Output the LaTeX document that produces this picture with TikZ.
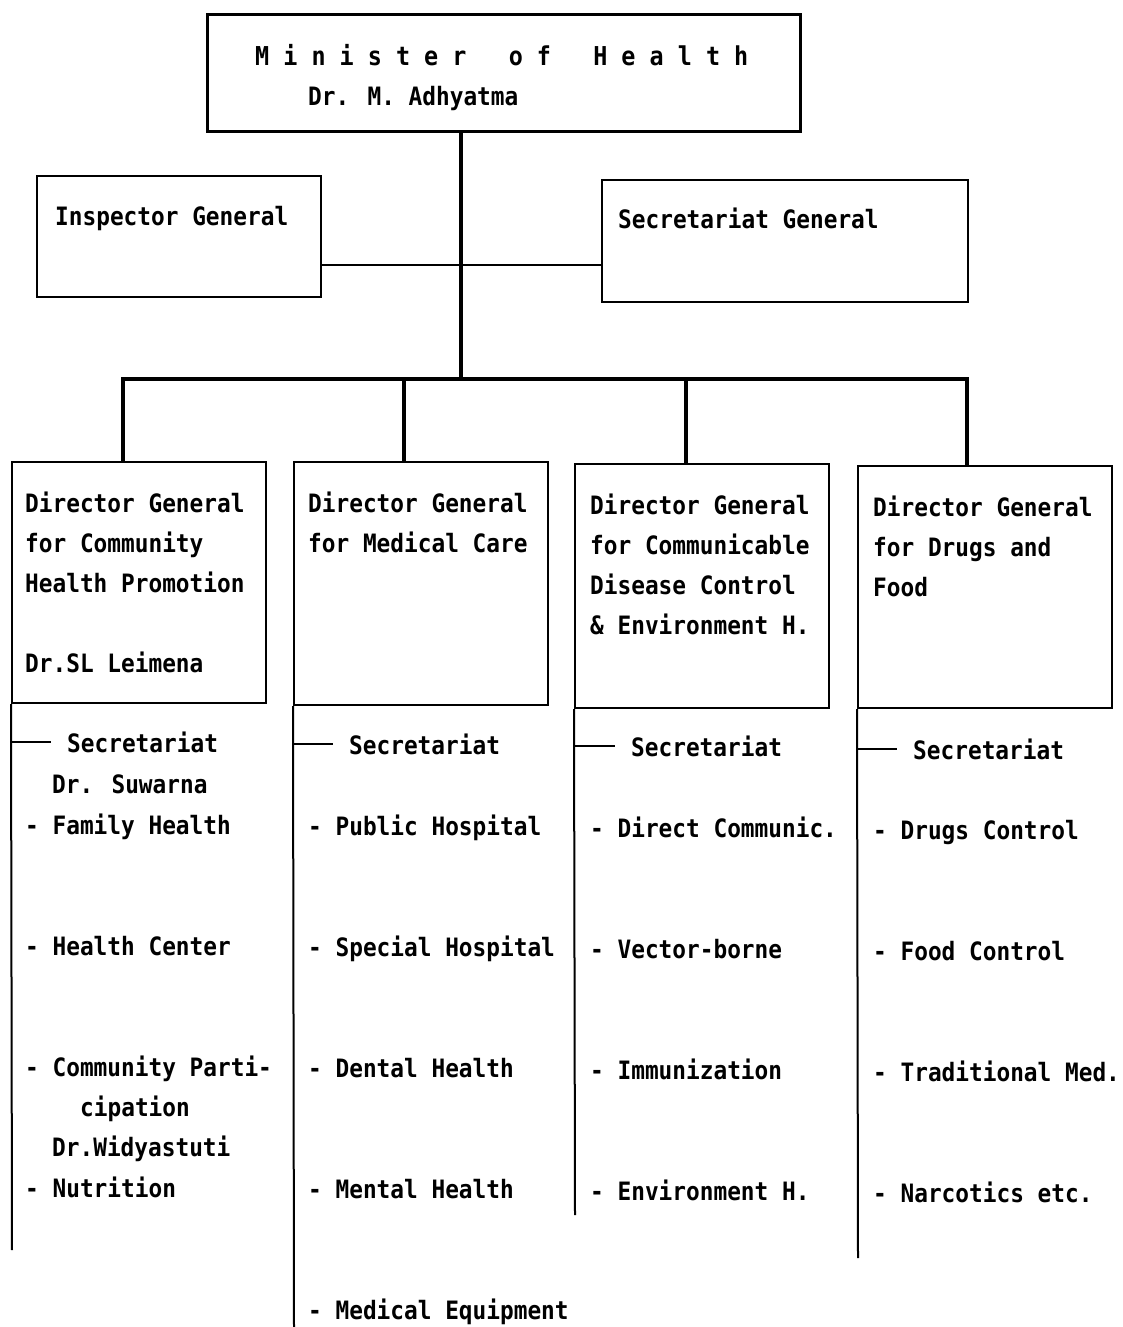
\documentclass[tikz,border=0pt]{standalone}
\usepackage{fontspec}
\newfontfamily\typew[FakeStretch=0.9]{DejaVu Sans Mono}
\newcommand{\orgfont}{\fontsize{25.3}{40}\selectfont\typew\bfseries}
\newcommand{\minfont}{\fontsize{26}{30}\selectfont\typew\bfseries}
\usetikzlibrary{positioning}

\tikzset{
  orgbox/.style={draw,line width=2pt,inner sep=0pt},
  txt/.style={anchor=base west,inner sep=0pt,font=\orgfont},
  trunk/.style={line width=3.5pt},
  colline/.style={line width=2pt},
  sectick/.style={line width=1.2pt,shorten >=16pt}
}

\begin{document}
\begin{tikzpicture}[x=1pt,y=-1pt]
\useasboundingbox (0,0) rectangle (1122,1327);

\node[orgbox,line width=3pt,minimum width=593pt,minimum height=117pt] (minister) at (503.5,73.5) {};
\node[txt,font=\minfont] (mintitle) at (255,66) {M~i~n~i~s~t~e~r~~~o~f~~~H~e~a~l~t~h};
\node[txt] (minname) at (308,106) {Dr. M. Adhyatma};

\node[orgbox,minimum width=284pt,minimum height=121pt] (ig) at (179,236.5) {};
\node[txt] (igtxt) at (55,225) {Inspector General};
\node[orgbox,minimum width=366pt,minimum height=122pt] (sg) at (785,241) {};
\node[txt] (sgtxt) at (618,228) {Secretariat General};

\coordinate (hub) at (461,265);
\coordinate (bar) at (461,379);
\draw[line width=1.5pt] (ig.east |- hub) -- (sg.west |- hub);
\draw[trunk] (minister.south -| hub) -- (bar);

\foreach \i/\x/\y/\h in {1/139/582.5/241, 2/421/583.5/243, 3/702/586/244, 4/985/587/242}
  \node[orgbox,minimum width=254pt,minimum height=\h pt] (dg\i) at (\x,\y) {};

\foreach \i/\x in {1/123,2/404,3/686,4/967}
  \coordinate (d\i) at (\x,379);
\draw[trunk] (d1 |- dg1.north) -- (d1) -- (d4) -- (d4 |- dg4.north);
\draw[trunk] (d2) -- (d2 |- dg2.north);
\draw[trunk] (d3) -- (d3 |- dg3.north);

\foreach \lbl [count=\i] in {Director General, for Community, Health Promotion}
  \node[txt] (dg1-\i) at (25,{512+40*(\i-1)}) {\lbl};
\node[txt] (dg1-5) at (25,672) {Dr.SL Leimena};
\foreach \lbl [count=\i] in {Director General, for Medical Care}
  \node[txt] (dg2-\i) at (308,{512+40*(\i-1)}) {\lbl};
\foreach \lbl [count=\i] in {Director General, for Communicable, Disease Control, \& Environment H.}
  \node[txt] (dg3-\i) at (590,{514+40*(\i-1)}) {\lbl};
\foreach \lbl [count=\i] in {Director General, for Drugs and, Food}
  \node[txt] (dg4-\i) at (873,{516+40*(\i-1)}) {\lbl};

\coordinate (e1) at (12,1250);
\coordinate (e2) at (294,1327);
\coordinate (e3) at (575,1215);
\coordinate (e4) at (858,1258);
\foreach \i in {1,...,4}
  \draw[colline] (dg\i.south west) -- (e\i);

\foreach \i/\x/\y in {1/67/752,2/349/754,3/631/756,4/913/759} {
  \node[txt] (sec\i) at (\x,\y) {Secretariat};
  \draw[sectick] (dg\i.west |- sec\i.west) -- (sec\i.west);
}

\node[txt] (c1-a) at (52,793) {Dr. Suwarna};
\foreach \lbl [count=\i] in {Family Health, Health Center, Community Parti-, Nutrition}
  \node[txt] (c1-\i) at (25,{834+121*(\i-1)}) {- \lbl};
\node[txt] (c1-b) at (80,1116) {cipation};
\node[txt] (c1-c) at (52,1156) {Dr.Widyastuti};

\foreach \lbl [count=\i] in {Public Hospital, Special Hospital, Dental Health, Mental Health, Medical Equipment}
  \node[txt] (c2-\i) at (308,{835+121*(\i-1)}) {- \lbl};
\foreach \lbl [count=\i] in {Direct Communic., Vector-borne, Immunization, Environment H.}
  \node[txt] (c3-\i) at (590,{837+121*(\i-1)}) {- \lbl};
\foreach \lbl [count=\i] in {Drugs Control, Food Control, Traditional Med., Narcotics etc.}
  \node[txt] (c4-\i) at (873,{839+121*(\i-1)}) {- \lbl};
\end{tikzpicture}
\end{document}
